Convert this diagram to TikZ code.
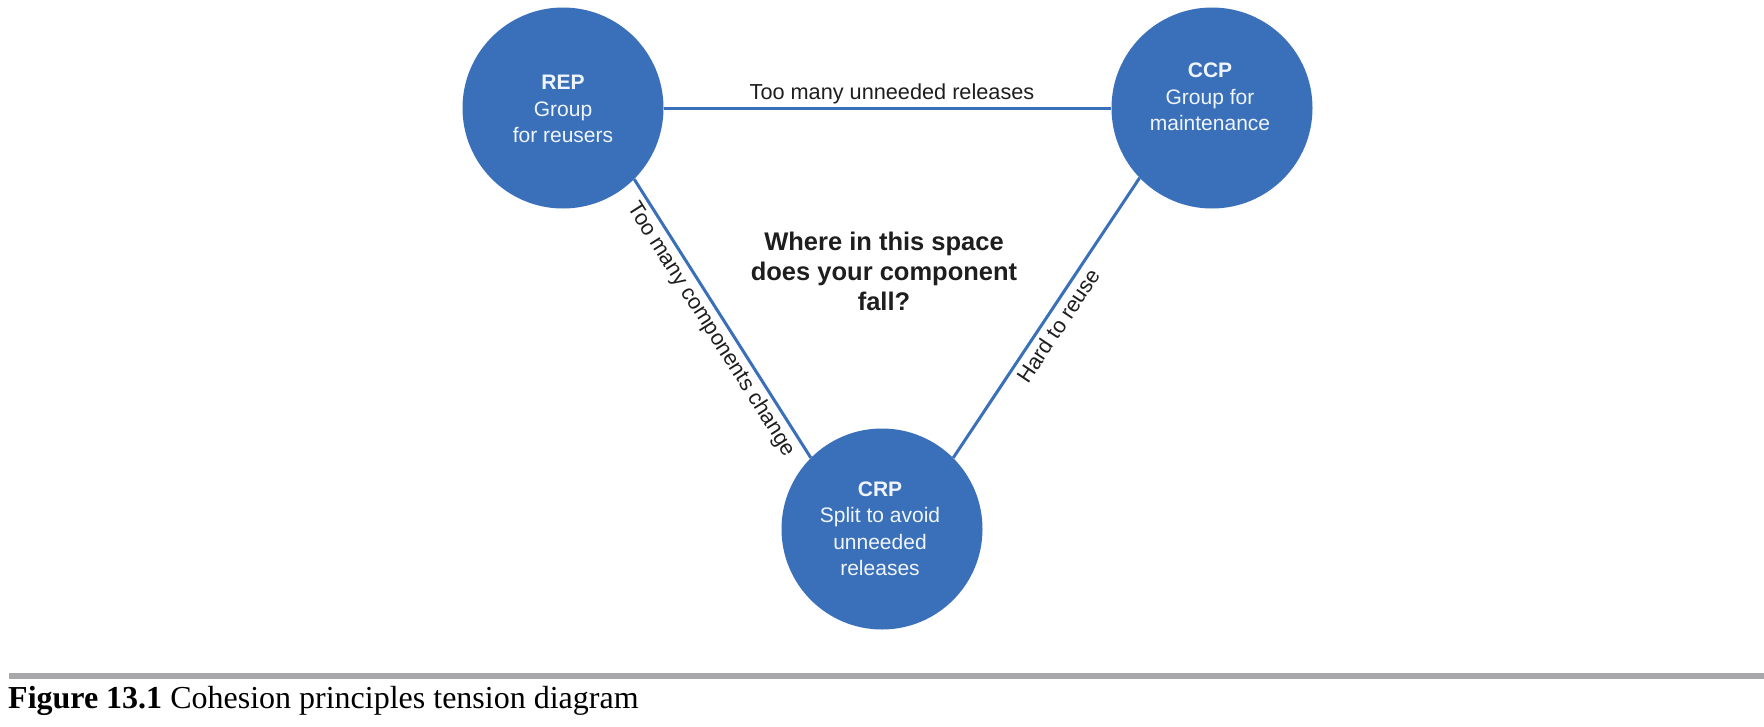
\documentclass[tikz,border=0pt]{standalone}
\usepackage{fontspec}
\setmainfont{Liberation Sans}
\newfontfamily\capfont{Liberation Serif}
\definecolor{cblue}{RGB}{58,112,186}
\definecolor{ctext}{RGB}{240,245,252}
\definecolor{dtext}{RGB}{30,30,30}
\definecolor{rulegray}{RGB}{168,168,171}
\begin{document}
\begin{tikzpicture}[x=1pt,y=-1pt,
  circ/.style={circle,fill=cblue,draw=none,minimum size=201pt,inner sep=0pt},
  ctxt/.style={text=ctext,align=center,inner sep=0pt,font=\fontsize{21}{26.5}\selectfont},
  link/.style={draw=cblue,line width=3pt},
  elabel/.style={text=dtext,inner sep=0pt,font=\fontsize{21.7}{25}\selectfont},
]
\useasboundingbox (0,0) rectangle (1764,726);
\fill[white] (0,0) rectangle (1764,726);

\node[circ] (REP) at (563,108) {};
\node[circ] (CCP) at (1212,108) {};
\node[circ] (CRP) at (882,529) {};

\node[ctxt] (REPt) at (563,109) {\textbf{REP}\\Group\\for reusers};
\node[ctxt] (CCPt) at (1210,97) {\textbf{CCP}\\Group for\\maintenance};
\node[ctxt] (CRPt) at (880,529) {\textbf{CRP}\\Split to avoid\\unneeded\\releases};

\draw[link] (REP.east) -- node[elabel,pos=0.51,above=2.5pt] {Too many unneeded releases} (CCP.west);
\draw[link] (REP.-45) -- node[elabel,pos=0.51,sloped,below=4pt] {Too many components change} (CRP.135);
\draw[link] (CRP.45) -- node[elabel,pos=0.5,sloped,below=5pt] {Hard to reuse} (CCP.-136);

\node[text=dtext,align=center,inner sep=0pt,font=\fontsize{25.5}{30}\selectfont\bfseries] (Q) at (884,271) {Where in this space\\does your component\\fall?};

\draw[rulegray,line width=6pt] (9,675.5) -- (1764,675.5);
\node[anchor=base west,inner sep=0pt,font=\capfont\fontsize{32}{36}\selectfont] (cap) at (8,708) {\textbf{Figure 13.1} Cohesion principles tension diagram};
\end{tikzpicture}
\end{document}
